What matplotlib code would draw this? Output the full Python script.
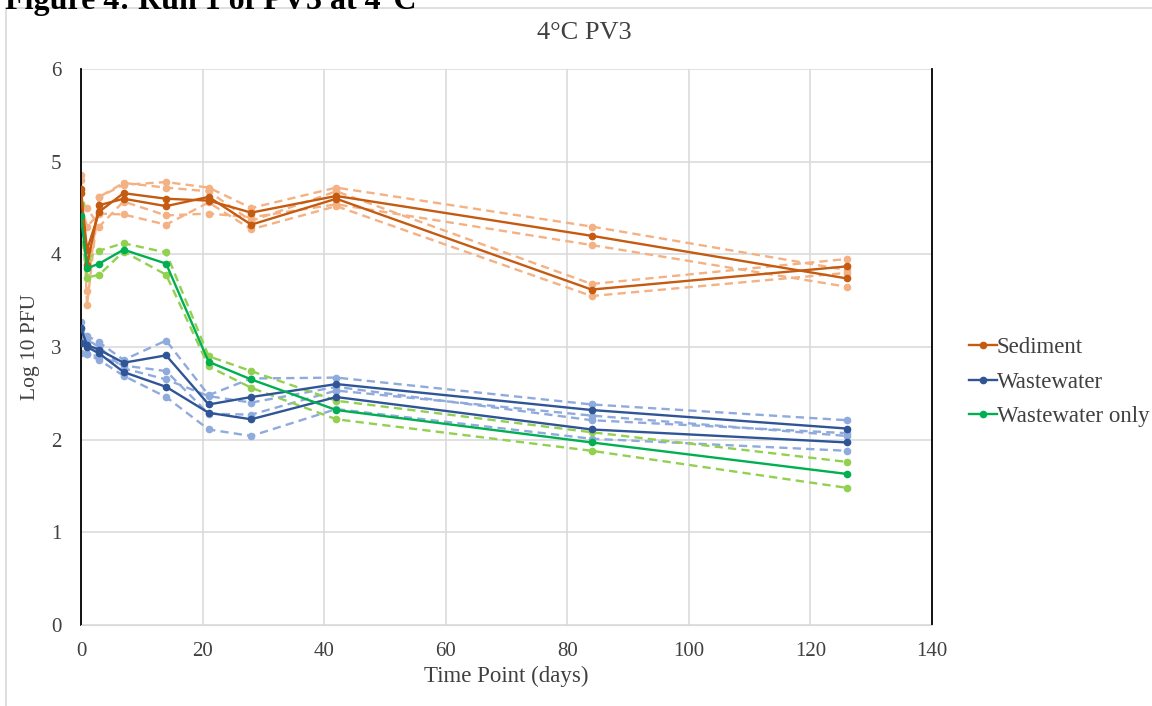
import numpy as np
import matplotlib
matplotlib.use("Agg")
import matplotlib.pyplot as plt
from matplotlib.patches import Rectangle
from matplotlib.lines import Line2D

plt.rcParams['font.family'] = ['Liberation Serif', 'DejaVu Serif']

days = [0, 1, 3, 7, 14, 21, 28, 42, 84, 126]

# Sediment: two mean lines, each with two replicates
sed_a = [4.66, 4.05, 4.46, 4.66, 4.60, 4.58, 4.45, 4.63, 4.20, 3.74]
sed_a_r1 = [4.80, 3.60, 4.62, 4.75, 4.78, 4.72, 4.50, 4.72, 4.30, 3.83]
sed_a_r2 = [4.52, 4.50, 4.30, 4.57, 4.42, 4.44, 4.40, 4.54, 4.10, 3.65]
sed_b = [4.70, 3.88, 4.53, 4.60, 4.52, 4.62, 4.32, 4.60, 3.62, 3.87]
sed_b_r1 = [4.86, 3.45, 4.62, 4.77, 4.72, 4.68, 4.36, 4.68, 3.68, 3.95]
sed_b_r2 = [4.54, 4.30, 4.44, 4.43, 4.32, 4.56, 4.27, 4.52, 3.55, 3.80]

# Wastewater: two mean lines, each with two replicates
ww_a = [3.20, 3.02, 2.97, 2.83, 2.91, 2.38, 2.46, 2.60, 2.32, 2.12]
ww_a_r1 = [3.27, 3.12, 3.05, 2.86, 3.07, 2.48, 2.66, 2.67, 2.38, 2.21]
ww_a_r2 = [3.13, 2.92, 2.90, 2.80, 2.74, 2.28, 2.27, 2.53, 2.26, 2.04]
ww_b = [3.04, 3.00, 2.93, 2.73, 2.57, 2.29, 2.22, 2.46, 2.11, 1.97]
ww_b_r1 = [3.15, 3.08, 3.00, 2.77, 2.65, 2.47, 2.40, 2.57, 2.21, 2.07]
ww_b_r2 = [2.93, 2.92, 2.86, 2.69, 2.46, 2.11, 2.04, 2.33, 2.01, 1.88]

# Wastewater only: one mean line with two replicates
wwo = [4.41, 3.85, 3.90, 4.05, 3.90, 2.84, 2.65, 2.32, 1.97, 1.63]
wwo_r1 = [4.54, 3.95, 4.04, 4.12, 4.02, 2.90, 2.74, 2.42, 2.08, 1.76]
wwo_r2 = [4.29, 3.75, 3.78, 4.03, 3.78, 2.79, 2.56, 2.22, 1.88, 1.48]

fig = plt.figure(figsize=(11.52, 7.06), dpi=100)

# chart border like the spreadsheet chart frame
fig.patches.append(Rectangle((6 / 1152, -0.01), 1.0, 1 - 8 / 706 + 0.01,
                             transform=fig.transFigure, fill=False,
                             edgecolor='#D9D9D9', linewidth=1.2))
fig.text(0.004, 1.0 - 1 / 706, 'Figure 4: Run 1 of PV3 at 4°C', fontsize=23,
         fontweight='bold', va='center', ha='left')

ax = fig.add_axes([81 / 1152, 1 - 625 / 706, (932 - 81) / 1152, (625 - 69) / 706])

dash = (0, (3.5, 2.2))
groups = [
    ('#C55A11', '#F4B183', [sed_a, sed_b], [sed_a_r1, sed_a_r2, sed_b_r1, sed_b_r2]),
    ('#2F5597', '#8FAADC', [ww_a, ww_b], [ww_a_r1, ww_a_r2, ww_b_r1, ww_b_r2]),
    ('#00B050', '#92D050', [wwo], [wwo_r1, wwo_r2]),
]
for dark, light, means, reps in groups:
    for r in reps:
        ax.plot(days, r, color=light, linestyle=dash, linewidth=1.7,
                marker='o', markersize=4.5, zorder=2)
for dark, light, means, reps in groups:
    for m in means:
        ax.plot(days, m, color=dark, linewidth=1.7, marker='o',
                markersize=4.5, zorder=3)

ax.set_xlim(0, 140)
ax.set_ylim(0, 6)
ax.set_xticks(np.arange(0, 141, 20))
ax.set_yticks(np.arange(0, 7, 1))
ax.grid(True, color='#D9D9D9', linewidth=1.1)
ax.set_axisbelow(True)
ax.tick_params(length=0, labelsize=15, colors='#404040')
ax.tick_params(axis='y', pad=14)
ax.tick_params(axis='x', pad=12)
for s in ['left', 'right']:
    ax.spines[s].set_color('black')
    ax.spines[s].set_linewidth(1.3)
ax.spines['top'].set_visible(False)
ax.spines['bottom'].set_color('#D9D9D9')

fig.text(584 / 1152, 1 - 33 / 706, '4°C PV3', fontsize=19,
         color='#404040', ha='center', va='center')
ax.set_xlabel('Time Point (days)', fontsize=16.5, color='#404040', labelpad=4)
ax.set_ylabel('Log 10 PFU', fontsize=15.5, color='#404040', labelpad=8)

handles = [Line2D([], [], color=c, linewidth=1.7, marker='o', markersize=4.5)
           for c in ['#C55A11', '#2F5597', '#00B050']]
fig.legend(handles, ['Sediment', 'Wastewater', 'Wastewater only'],
           loc='center left', bbox_to_anchor=(960 / 1152, 1 - 382 / 706),
           frameon=False, fontsize=16.5, handlelength=1.2, handletextpad=0.0,
           labelspacing=0.6, labelcolor='#404040', borderaxespad=0)

fig.savefig('out.png', dpi=100)
